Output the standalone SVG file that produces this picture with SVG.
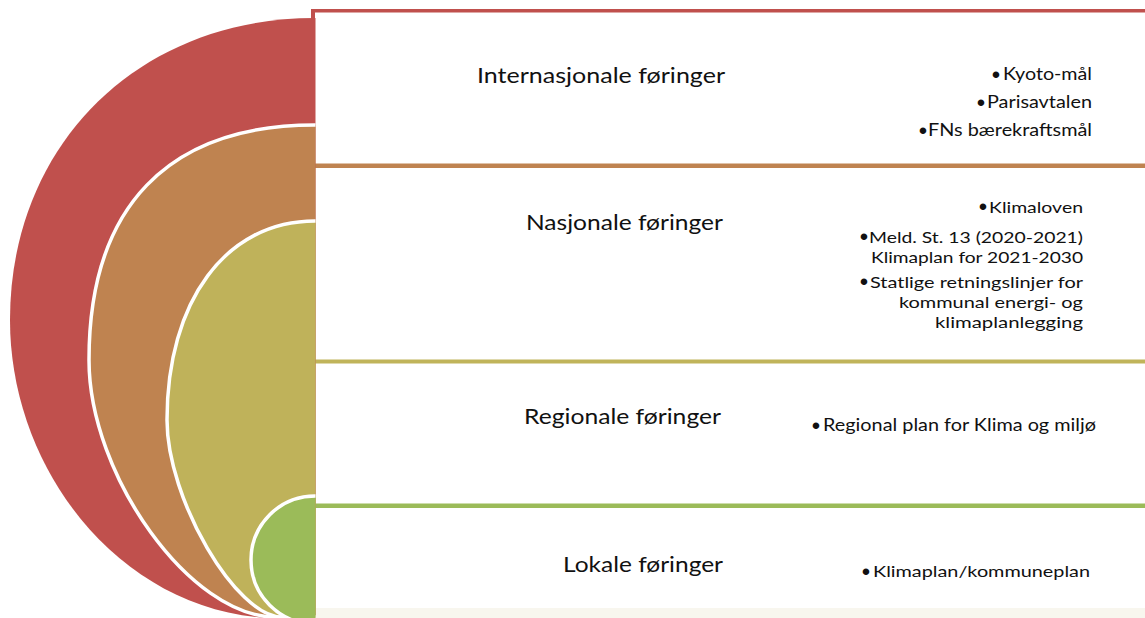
<svg xmlns="http://www.w3.org/2000/svg" width="1145" height="618" viewBox="0 0 1145 618">
<style>
.h{font-family:Lato,"Open Sans","Liberation Sans",sans-serif;font-size:22px;fill:#111;text-anchor:end}
.t{font-family:Lato,"Open Sans","Liberation Sans",sans-serif;fill:#111;text-anchor:end}
.b{font-family:"Liberation Sans",sans-serif;fill:#111;text-anchor:middle;font-size:24px}
.sep{stroke:#fff;stroke-width:3.5}
</style>
<defs>
<clipPath id="left"><rect x="0" y="0" width="315.5" height="618"/></clipPath>
</defs>
<g id="row1">
<rect x="313" y="9" width="840" height="160" fill="#fff"/>
<rect x="311" y="9" width="834" height="3.5" fill="#C0504D"/>
<rect x="311" y="9" width="4" height="14" fill="#C0504D"/>
<text class="h" x="725" y="83" textLength="248" lengthAdjust="spacingAndGlyphs">Internasjonale føringer</text>
<text class="b" x="996" y="82.5">•</text>
<text class="t" x="1092" y="80" font-size="17" textLength="89" lengthAdjust="spacingAndGlyphs">Kyoto-mål</text>
<text class="b" x="981" y="110.5">•</text>
<text class="t" x="1092" y="108" font-size="17" textLength="105" lengthAdjust="spacingAndGlyphs">Parisavtalen</text>
<text class="b" x="923" y="138.5">•</text>
<text class="t" x="1092" y="136" font-size="17" textLength="164" lengthAdjust="spacingAndGlyphs">FNs bærekraftsmål</text>
</g>
<g id="row2">
<rect x="313" y="165" width="840" height="196" fill="#fff"/>
<rect x="313" y="163.5" width="832" height="4.5" fill="#BF8350"/>
<text class="h" x="723" y="230" textLength="197" lengthAdjust="spacingAndGlyphs">Nasjonale føringer</text>
<text class="b" x="983" y="215" font-size="22">•</text>
<text class="t" x="1083" y="213" font-size="15" textLength="94" lengthAdjust="spacingAndGlyphs">Klimaloven</text>
<text class="b" x="864" y="245" font-size="22">•</text>
<text class="t" x="1083" y="243" font-size="15" textLength="214" lengthAdjust="spacingAndGlyphs">Meld. St. 13 (2020-2021)</text>
<text class="t" x="1083" y="263" font-size="15" textLength="212" lengthAdjust="spacingAndGlyphs">Klimaplan for 2021-2030</text>
<text class="b" x="864" y="290" font-size="22">•</text>
<text class="t" x="1083" y="288" font-size="15" textLength="213" lengthAdjust="spacingAndGlyphs">Statlige retningslinjer for</text>
<text class="t" x="1083" y="308" font-size="15" textLength="184" lengthAdjust="spacingAndGlyphs">kommunal energi- og</text>
<text class="t" x="1083" y="328" font-size="15" textLength="148" lengthAdjust="spacingAndGlyphs">klimaplanlegging</text>
</g>
<g id="row3">
<rect x="313" y="361" width="840" height="145" fill="#fff"/>
<rect x="311" y="359.5" width="834" height="4" fill="#C0B45A"/>
<text class="h" x="721" y="424" textLength="197" lengthAdjust="spacingAndGlyphs">Regionale føringer</text>
<text class="b" x="816" y="433.5">•</text>
<text class="t" x="1096" y="431" font-size="17" textLength="273" lengthAdjust="spacingAndGlyphs">Regional plan for Klima og miljø</text>
</g>
<g id="row4">
<rect x="313" y="505" width="840" height="113" fill="#fff"/>
<rect x="313" y="503.5" width="832" height="4.5" fill="#9BBB59"/>
<rect x="316" y="608" width="829" height="10" fill="#F8F6EE"/>
<text class="h" x="723" y="572" textLength="160" lengthAdjust="spacingAndGlyphs">Lokale føringer</text>
<text class="b" x="866" y="579.5">•</text>
<text class="t" x="1090" y="577" font-size="16" textLength="217" lengthAdjust="spacingAndGlyphs">Klimaplan/kommuneplan</text>
</g>
<g id="shapes" clip-path="url(#left)">
<path id="ring-internasjonal" d="M340,18 H315 C138,18 10,145 10,320 C10,470 120,610 268,618 H340 Z" fill="#C0504D"/>
<path id="ring-nasjonal" class="sep" d="M340,125 H315 C168,125 89,207 89,360 C89,476 191,617 275,617 H340 Z" fill="#BF8350"/>
<path id="ring-regional" class="sep" d="M340,221 H315 C226,221 167,301 167,420 C167,499 236,617 282,617 H340 Z" fill="#BFB25A"/>
<circle id="ring-lokal" class="sep" cx="315" cy="560" r="64" fill="#9BBB59"/>
</g>
</svg>
